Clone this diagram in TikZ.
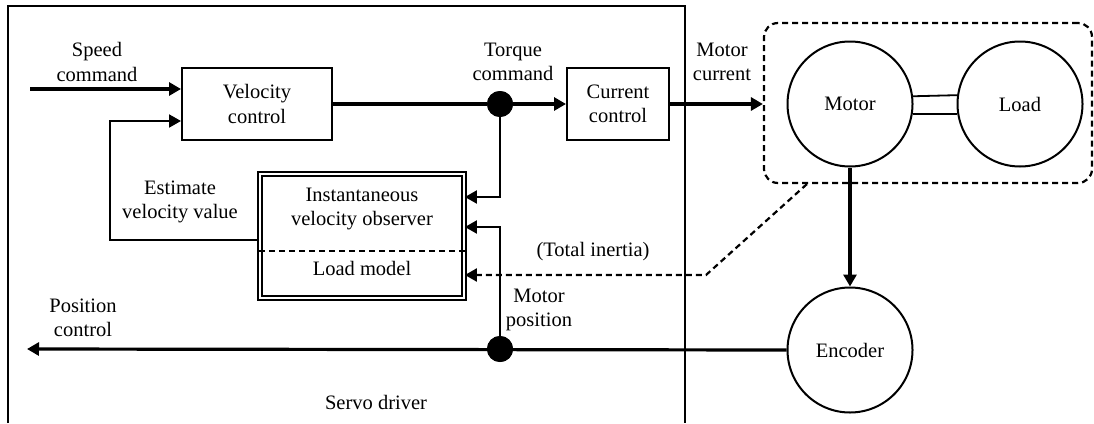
\documentclass[tikz,border=0pt]{standalone}
\usepackage{fontspec}
\setmainfont{Liberation Serif}
\usetikzlibrary{arrows.meta,calc}
\begin{document}
\begin{tikzpicture}[x=1pt,y=-1pt,
  font=\fontsize{20.5}{24.5}\selectfont,
  blk/.style={draw,line width=2pt,inner sep=0pt,align=center},
  circ/.style={draw,circle,line width=2pt,minimum size=125pt,inner sep=0pt},
  dot/.style={circle,fill=black,minimum size=26pt,inner sep=0pt},
  lbl/.style={align=center,inner sep=0pt},
  tip/.style={-{Triangle[length=12pt,width=13pt]}},
  main/.style={tip,line width=3.2pt},
  sig/.style={tip,line width=2pt},
  dsh/.style={line width=2.2pt,dash pattern=on 6pt off 4pt}
]
\useasboundingbox (0,0) rectangle (1094,423);
% servo driver frame
\draw[line width=1.8pt] (8,423) -- (8,6) -- (685,6) -- (685,423);
% blocks
\node[blk,minimum width=150pt,minimum height=72pt] (vc) at (257,104) {Velocity\\control};
\node[blk,minimum width=102pt,minimum height=72pt] (cc) at (618,104) {Current\\control};
\node[draw,line width=1.8pt,double,double distance=2.4pt,minimum width=204pt,minimum height=124pt,inner sep=0pt] (obs) at (362,236) {};
\node[lbl] (obst) at (362,209) {Instantaneous\\velocity observer};
\node[lbl] (lm) at (362,268) {Load model};
\draw[dsh] (obs.west |- 0,251) -- (obs.east |- 0,251);
% motor / load / encoder
\node[draw,dsh,rounded corners=14pt,minimum width=328pt,minimum height=160pt] (dbox) at (928,103) {};
\node[circ] (motor) at (850,104) {Motor};
\node[circ] (load) at (1020,104) {Load};
\node[circ] (enc) at (850,350) {Encoder};
\draw[line width=1.8pt] (motor.7.5) -- (load.172.5);
\draw[line width=1.8pt] (motor.-9) -- (load.-171);
% junction dots
\node[dot] (td) at (500,104) {};
\node[dot] (pd) at (500,349) {};
% coordinates of free ends
\coordinate (sc) at (30,89);
\coordinate (fbc) at (110,121);
\coordinate (pc) at (27,349);
\coordinate (tibend) at (706,275);
% connectors
\draw[main] (sc) -- (sc -| vc.west);
\draw[sig] ([yshift=-4pt]obs.west) -| (fbc) -- (fbc -| vc.west);
\draw[line width=3.2pt] (vc.east) -- (td);
\draw[main] (td) -- (cc.west);
\draw[sig] (td) |- ([yshift=39pt]obs.east);
\draw[main] (cc.east) -- (cc.east -| dbox.west);
\draw[main] (motor.south) -- (enc.north);
\draw[main] (enc.west) -- (pc);
\draw[sig] (pd) |- ([yshift=9pt]obs.east);
\draw[dsh,tip] ([xshift=44pt]dbox.south west) -- (tibend) -- ([yshift=-39pt]obs.east);
\node[dot] at (td) {};
\node[dot] at (pd) {};
% labels
\node[lbl] (l1) at (97,62) {Speed\\command};
\node[lbl] (l2) at (513,62) {Torque\\command};
\node[lbl] (l3) at (722,62) {Motor\\current};
\node[lbl] (l4) at (180,202) {Estimate\\velocity value};
\node[lbl] (l5) at (83,318) {Position\\control};
\node[lbl] (l6) at (539,310) {Motor\\position};
\node[lbl] (l7) at (593,252) {(Total inertia)};
\node[lbl] (l8) at (376,402) {Servo driver};
\end{tikzpicture}
\end{document}
